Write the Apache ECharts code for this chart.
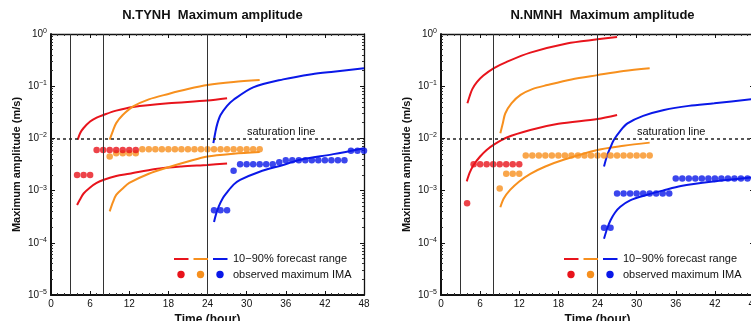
<!DOCTYPE html>
<html>
<head>
<meta charset="utf-8">
<script src="https://cdn.jsdelivr.net/npm/echarts@6/dist/echarts.min.js"></script>
<style>
  html, body { margin: 0; background: #fff; }
  #main { width: 751px; height: 321px; }
</style>
</head>
<body>
<div id="main"></div>
<script>
const FONT = '"Liberation Sans", Arial, sans-serif';
const RED = '#e8141c';
const ORANGE = '#f7901e';
const BLUE = '#0a18e8';

const stationNames = ['N.TYNH', 'N.NMNH'];
const forecastStarts = [3, 8, 24];       // vertical lines (hour)
const saturationLevel = 0.01;
const xTickHours = [0, 6, 12, 18, 24, 30, 36, 42, 48];

// ---- N.TYNH : 10-90% forecast range [hour, m/s]
const tynhRedHi = [[4.1, 0.0095], [4.5, 0.0128], [5, 0.0158], [6, 0.021], [7, 0.025], [8, 0.028], [10, 0.034], [12.6, 0.040], [18, 0.047], [24, 0.053], [27, 0.059]];
const tynhRedLo = [[4, 0.00053], [4.4, 0.00066], [5, 0.00088], [6, 0.00115], [7, 0.0014], [8, 0.0016], [10, 0.0019], [12, 0.0021], [16, 0.0026], [20, 0.0029], [24, 0.0031], [27, 0.0033]];
const tynhOrangeHi = [[9, 0.0095], [9.5, 0.014], [10, 0.0196], [11, 0.028], [12.6, 0.041], [15, 0.056], [18, 0.071], [21, 0.088], [24, 0.105], [28, 0.12], [32, 0.131]];
const tynhOrangeLo = [[9, 0.0004], [9.5, 0.0006], [10, 0.00083], [11, 0.0011], [12, 0.0014], [15, 0.0021], [18, 0.0028], [21, 0.0036], [24, 0.0045], [28, 0.0051], [32, 0.0055]];
const tynhBlueHi = [[24.9, 0.0081], [25.2, 0.013], [25.5, 0.019], [26, 0.028], [27, 0.042], [28, 0.055], [31, 0.095], [35.6, 0.135], [40, 0.17], [43.3, 0.19], [48, 0.22]];
const tynhBlueLo = [[25, 0.00025], [25.3, 0.00035], [25.7, 0.00049], [26.3, 0.0007], [26.9, 0.00089], [28, 0.0013], [29, 0.0016], [32, 0.0023], [35.6, 0.0031], [38.2, 0.0039], [43.3, 0.005], [48, 0.0065]];

// ---- N.TYNH : observed maximum IMA
const tynhRedObs = [[4, 0.002], [5, 0.002], [6, 0.002], [7, 0.006], [8, 0.006], [9, 0.006], [10, 0.006], [11, 0.006], [12, 0.006], [13, 0.006]];
const tynhOrangeObs = [[9, 0.0045], [10, 0.0052], [11, 0.0052], [12, 0.0052], [13, 0.0052],
  [14, 0.0062], [15, 0.0062], [16, 0.0062], [17, 0.0062], [18, 0.0062], [19, 0.0062], [20, 0.0062], [21, 0.0062], [22, 0.0062],
  [23, 0.0062], [24, 0.0062], [25, 0.0062], [26, 0.0062], [27, 0.0062], [28, 0.0062], [29, 0.0062], [30, 0.0062], [31, 0.0062], [32, 0.0062]];
const tynhBlueObs = [[25, 0.00042], [26, 0.00042], [27, 0.00042], [28, 0.0024],
  [29, 0.0032], [30, 0.0032], [31, 0.0032], [32, 0.0032], [33, 0.0032], [34, 0.0032],
  [35, 0.0035], [36, 0.0038], [37, 0.0038], [38, 0.0038], [39, 0.0038], [40, 0.0038], [41, 0.0038], [42, 0.0038], [43, 0.0038], [44, 0.0038], [45, 0.0038],
  [46, 0.0058], [47, 0.0058], [48, 0.0058]];

// ---- N.NMNH : 10-90% forecast range
const nmnhRedHi = [[4.05, 0.047], [4.4, 0.065], [4.8, 0.088], [5.5, 0.12], [6.5, 0.16], [8.05, 0.22], [10, 0.29], [13.7, 0.44], [19.3, 0.66], [24, 0.79], [27, 0.88]];
const nmnhRedLo = [[3.95, 0.0015], [4.4, 0.0022], [5, 0.0031], [6, 0.0045], [7, 0.006], [8.05, 0.0075], [10, 0.0103], [13.7, 0.0145], [18, 0.019], [24, 0.0235], [27, 0.028]];
const nmnhOrangeHi = [[9.1, 0.0125], [9.5, 0.02], [9.85, 0.030], [10.8, 0.047], [12.2, 0.068], [14, 0.088], [16.3, 0.105], [20, 0.135], [24, 0.163], [28, 0.195], [32, 0.22]];
const nmnhOrangeLo = [[9.1, 0.00048], [9.6, 0.0007], [10.6, 0.00103], [12, 0.0015], [13.7, 0.0021], [16, 0.0029], [18.8, 0.0039], [24, 0.006], [28, 0.0072], [32, 0.0083]];
const nmnhBlueHi = [[25, 0.0029], [25.5, 0.0048], [26, 0.0068], [26.5, 0.0093], [27.5, 0.014], [28.6, 0.0194], [31, 0.027], [34.2, 0.035], [38, 0.042], [41.9, 0.047], [48, 0.057]];
const nmnhBlueLo = [[25, 0.00012], [25.5, 0.00019], [26, 0.00027], [26.7, 0.00038], [27.5, 0.00049], [29, 0.00065], [31.6, 0.00083], [34, 0.001], [36.8, 0.00123], [41.9, 0.0015], [48, 0.0018]];

// ---- N.NMNH : observed maximum IMA
const nmnhRedObs = [[4, 0.00057], [5, 0.0032], [6, 0.0032], [7, 0.0032], [8, 0.0032], [9, 0.0032], [10, 0.0032], [11, 0.0032], [12, 0.0032]];
const nmnhOrangeObs = [[9, 0.0011], [10, 0.0021], [11, 0.0021], [12, 0.0021],
  [13, 0.0047], [14, 0.0047], [15, 0.0047], [16, 0.0047], [17, 0.0047], [18, 0.0047], [19, 0.0047], [20, 0.0047], [21, 0.0047], [22, 0.0047],
  [23, 0.0047], [24, 0.0047], [25, 0.0047], [26, 0.0047], [27, 0.0047], [28, 0.0047], [29, 0.0047], [30, 0.0047], [31, 0.0047], [32, 0.0047]];
const nmnhBlueObs = [[25, 0.000195], [26, 0.000195],
  [27, 0.00088], [28, 0.00088], [29, 0.00088], [30, 0.00088], [31, 0.00088], [32, 0.00088], [33, 0.00088], [34, 0.00088], [35, 0.00088],
  [36, 0.0017], [37, 0.0017], [38, 0.0017], [39, 0.0017], [40, 0.0017], [41, 0.0017], [42, 0.0017], [43, 0.0017], [44, 0.0017], [45, 0.0017],
  [46, 0.0017], [47, 0.0017], [48, 0.0017]];

const panels = [
  { lines: [[tynhRedHi, RED], [tynhRedLo, RED], [tynhOrangeHi, ORANGE], [tynhOrangeLo, ORANGE], [tynhBlueHi, BLUE], [tynhBlueLo, BLUE]],
    dots: [[tynhOrangeObs, ORANGE], [tynhRedObs, RED], [tynhBlueObs, BLUE]] },
  { lines: [[nmnhRedHi, RED], [nmnhRedLo, RED], [nmnhOrangeHi, ORANGE], [nmnhOrangeLo, ORANGE], [nmnhBlueHi, BLUE], [nmnhBlueLo, BLUE]],
    dots: [[nmnhOrangeObs, ORANGE], [nmnhRedObs, RED], [nmnhBlueObs, BLUE]] }
];

const gridLefts = [51, 441];
const gridTop = 34, gridW = 313, gridH = 261;

let chart = echarts.init(document.getElementById('main'), null, { renderer: 'canvas' });

function expLabel(v) {
  const e = Math.round(Math.log10(v));
  return '{b|10}{s|' + (e === 0 ? '0' : '\u2212' + (-e)) + '}';
}

let grids = [], xAxes = [], yAxes = [], series = [], titles = [], graphics = [];

panels.forEach(function (panel, p) {
  grids.push({ left: gridLefts[p], top: gridTop, width: gridW, height: gridH, outerBoundsMode: 'none' });

  // bottom axis with labels
  xAxes.push({
    gridIndex: p, type: 'value', min: 0, max: 48, interval: 6, position: 'bottom',
    name: 'Time (hour)', nameLocation: 'middle', nameGap: 16,
    nameTextStyle: { fontFamily: FONT, fontSize: 12, fontWeight: 'bold', color: '#111' },
    axisLine: { onZero: false, lineStyle: { color: '#111', width: 2 } },
    axisTick: { inside: true, length: 4, lineStyle: { color: '#111' } },
    minorTick: { show: true, splitNumber: 6, length: 2, lineStyle: { color: '#333' } },
    axisLabel: { fontFamily: FONT, fontSize: 10, color: '#111', margin: 4,
      formatter: function (v) { return xTickHours.indexOf(v) >= 0 ? String(v) : ''; } },
    splitLine: { show: false }
  });
  // top frame axis
  xAxes.push({
    gridIndex: p, type: 'value', min: 0, max: 48, interval: 6, position: 'top',
    axisLine: { onZero: false, lineStyle: { color: '#111', width: 1.3 } },
    axisTick: { inside: true, length: 4, lineStyle: { color: '#111' } },
    minorTick: { show: true, splitNumber: 6, length: 2, lineStyle: { color: '#333' } },
    axisLabel: { show: false }, splitLine: { show: false }
  });
  // left log axis
  yAxes.push({
    gridIndex: p, type: 'log', logBase: 10, min: 1e-5, max: 1, position: 'left',
    name: 'Maximum amplitude (m/s)', nameLocation: 'middle', nameGap: 29,
    nameTextStyle: { fontFamily: FONT, fontSize: 11, fontWeight: 'bold', color: '#111' },
    axisLine: { onZero: false, lineStyle: { color: '#111', width: 2 } },
    axisTick: { inside: true, length: 4, lineStyle: { color: '#111' } },
    minorTick: { show: true, splitNumber: 9, length: 2, lineStyle: { color: '#333' } },
    axisLabel: { fontFamily: FONT, color: '#111', margin: 4, formatter: expLabel,
      rich: { b: { fontFamily: FONT, fontSize: 10, color: '#111' },
              s: { fontFamily: FONT, fontSize: 7, color: '#111', padding: [0, 0, 6, 0] } } },
    splitLine: { show: false }
  });
  // right frame axis
  yAxes.push({
    gridIndex: p, type: 'log', logBase: 10, min: 1e-5, max: 1, position: 'right',
    axisLine: { onZero: false, lineStyle: { color: '#111', width: 1.3 } },
    axisTick: { inside: true, length: 4, lineStyle: { color: '#111' } },
    minorTick: { show: true, splitNumber: 9, length: 2, lineStyle: { color: '#333' } },
    axisLabel: { show: false }, splitLine: { show: false }
  });

  const xi = p * 2, yi = p * 2;

  panel.lines.forEach(function (ln, k) {
    const s = {
      type: 'line', xAxisIndex: xi, yAxisIndex: yi, data: ln[0], smooth: 0.3,
      showSymbol: false, symbol: 'none', silent: true, animation: false,
      lineStyle: { color: ln[1], width: 2 }, z: 3
    };
    if (k === 0) {
      s.markLine = {
        silent: true, symbol: 'none', animation: false,
        label: { show: false },
        data: forecastStarts.map(function (h) {
          return { xAxis: h, lineStyle: { color: '#333', width: 1, type: 'solid' } };
        }).concat([{ yAxis: saturationLevel, lineStyle: { color: '#222', width: 1.5, type: [3, 3] } }])
      };
      s.markPoint = {
        silent: true, animation: false, symbolSize: 0,
        data: [{ coord: [35.3, 0.0135], label: { show: true, formatter: 'saturation line',
          fontFamily: FONT, fontSize: 11, color: '#111', position: 'inside' } }]
      };
    }
    series.push(s);
  });
  panel.dots.forEach(function (dt) {
    series.push({
      type: 'scatter', xAxisIndex: xi, yAxisIndex: yi, data: dt[0], symbolSize: 6.5,
      itemStyle: { color: dt[1] }, silent: true, animation: false, z: 4
    });
  });

  titles.push({
    text: stationNames[p] + '  Maximum amplitude', left: gridLefts[p] + gridW / 2, top: 4, textAlign: 'center',
    textStyle: { fontFamily: FONT, fontSize: 13, fontWeight: 'bold', color: '#111' }
  });

  // legend box (drawn)
  const lx = gridLefts[p] + 123;
  [RED, ORANGE, BLUE].forEach(function (c, i) {
    graphics.push({ type: 'line', shape: { x1: lx + i * 19.5, y1: 259, x2: lx + i * 19.5 + 14.5, y2: 259 },
      style: { stroke: c, lineWidth: 2 }, z: 10 });
    graphics.push({ type: 'circle', shape: { cx: lx + 7 + i * 19.5, cy: 274.5, r: 3.7 },
      style: { fill: c }, z: 10 });
  });
  graphics.push({ type: 'text', x: lx + 59, y: 259,
    style: { text: '10\u221290% forecast range', font: '11px ' + FONT, fill: '#111', verticalAlign: 'middle' }, z: 10 });
  graphics.push({ type: 'text', x: lx + 59, y: 274.5,
    style: { text: 'observed maximum IMA', font: '11px ' + FONT, fill: '#111', verticalAlign: 'middle' }, z: 10 });
});

chart.setOption({
  backgroundColor: '#fff',
  animation: false,
  title: titles,
  grid: grids,
  xAxis: xAxes,
  yAxis: yAxes,
  series: series,
  graphic: graphics
});
</script>
</body>
</html>
